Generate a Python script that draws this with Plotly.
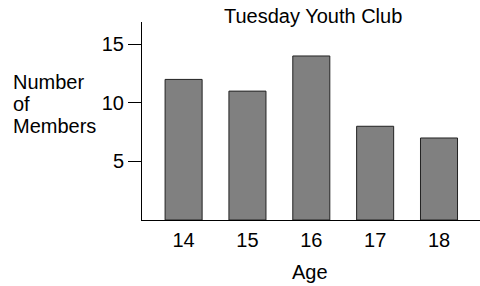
import plotly.graph_objects as go

ages = ["14", "15", "16", "17", "18"]
members = [12, 11, 14, 8, 7]
y_ticks = [5, 10, 15]
title_text = "Tuesday Youth Club"
x_label = "Age"
y_label_lines = ["Number", "of", "Members"]

FONT = "Liberation Sans, Arial, Helvetica, sans-serif"
FS = 20

fig = go.Figure()
fig.add_trace(go.Bar(
    x=ages, y=members, width=0.58,
    marker=dict(color="#808080", line=dict(color="#222222", width=1)),
))

L, R, T, B = 142, 0, 22, 66
W, H = 480, 286
plot_h = H - T - B
plot_w = W - L - R

def px_x(x):
    return (x - L) / plot_w

def px_y(y):
    return (H - B - y) / plot_h

annotations = [
    dict(text=title_text, x=px_x(312.7), y=px_y(15.8), xref="paper", yref="paper",
         xanchor="center", yanchor="middle", showarrow=False,
         font=dict(family=FONT, size=FS, color="black")),
    dict(text=x_label, x=px_x(309.5), y=px_y(272), xref="paper", yref="paper",
         xanchor="center", yanchor="middle", showarrow=False,
         font=dict(family=FONT, size=FS, color="black")),
]
for i, line in enumerate(y_label_lines):
    annotations.append(dict(
        text=line, x=px_x(11), y=px_y(81.7 + 22.05 * i), xref="paper", yref="paper",
        xanchor="left", yanchor="middle", showarrow=False,
        font=dict(family=FONT, size=FS, color="black")))

fig.update_layout(
    width=W, height=H,
    margin=dict(l=L, r=R, t=T, b=B, pad=0),
    paper_bgcolor="white", plot_bgcolor="white",
    showlegend=False,
    font=dict(family=FONT, size=FS, color="black"),
    annotations=annotations,
    xaxis=dict(
        type="category", range=[-0.6515, 4.642],
        showline=True, linecolor="black", linewidth=1,
        showgrid=False, zeroline=False, ticks="",
        tickfont=dict(family=FONT, size=FS, color="black"),
        ticklabelstandoff=2,
    ),
    yaxis=dict(
        range=[0, 16.9], tickvals=y_ticks,
        showline=True, linecolor="black", linewidth=1,
        showgrid=False, zeroline=False,
        ticks="outside", ticklen=13, tickcolor="black", tickwidth=1,
        tickfont=dict(family=FONT, size=FS, color="black"),
    ),
)

fig.write_html("out.html",
               config={"displayModeBar": False},
               post_script="document.body.style.margin='0';document.body.style.padding='0';")
